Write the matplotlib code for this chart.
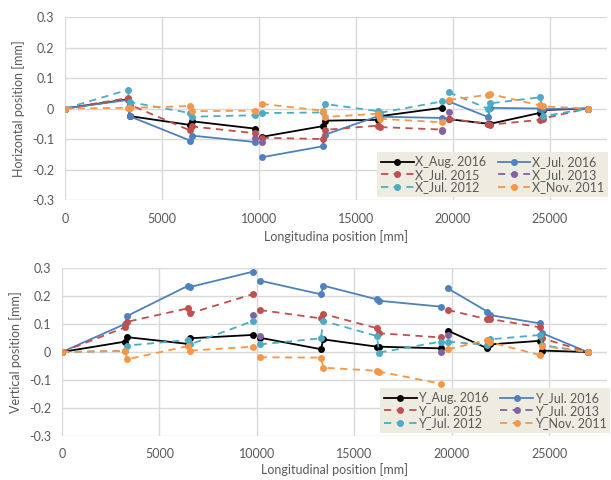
import numpy as np
import matplotlib
matplotlib.use("Agg")
import matplotlib.pyplot as plt
from matplotlib.ticker import FuncFormatter, MultipleLocator

plt.rcParams['font.family'] = ['Lato', 'DejaVu Sans']
plt.rcParams['axes.unicode_minus'] = False

# Longitudinal positions of the measuring points [mm]
positions = [0, 3230, 3350, 6450, 6560, 9800, 10140, 13280, 13400,
             16150, 16260, 19420, 19790, 21820, 21940, 24520, 24630, 26950]
# line breaks: segments of point indices
segments = [(0, 6), (6, 12), (12, 18)]

labels = ["Aug. 2016", "Jul. 2016", "Jul. 2015", "Jul. 2013", "Jul. 2012", "Nov. 2011"]
N = None

# Horizontal position [mm]
x_aug2016 = [0, 0.030, -0.025, -0.054, -0.042, -0.066, -0.093, -0.058, -0.040,
             -0.037, -0.025, 0.002, -0.035, -0.050, -0.050, -0.014, -0.005, 0]
x_jul2016 = [0, 0.028, -0.026, -0.105, -0.089, -0.110, -0.160, -0.124, -0.086,
             -0.025, -0.027, -0.031, 0.023, -0.028, 0.002, 0.000, -0.002, 0]
x_jul2015 = [0, 0.034, 0.012, -0.072, -0.059, -0.081, -0.096, -0.100, -0.070,
             -0.056, -0.061, -0.069, -0.034, -0.050, -0.053, -0.037, -0.033, 0]
x_jul2013 = [N, N, N, N, N, -0.096, -0.110, N, N,
             N, N, -0.075, -0.010, N, N, N, N, N]
x_jul2012 = [0, 0.061, 0.021, -0.015, -0.027, -0.022, -0.015, -0.013, 0.015,
             -0.009, -0.014, 0.023, 0.053, -0.001, 0.017, 0.037, -0.026, 0]
x_nov2011 = [0, 0.002, 0.002, 0.008, -0.009, -0.007, 0.015, -0.007, -0.028,
             -0.017, -0.034, -0.045, 0.028, 0.045, 0.047, 0.010, 0.007, 0]

# Vertical position [mm]
y_aug2016 = [0, 0.037, 0.053, 0.029, 0.049, 0.061, 0.051, 0.010, 0.045,
             0.019, 0.019, 0.013, 0.076, 0.013, 0.027, 0.040, 0.005, 0]
y_jul2016 = [0, 0.100, 0.129, 0.236, 0.232, 0.287, 0.255, 0.206, 0.237,
             0.188, 0.183, 0.162, 0.227, 0.144, 0.132, 0.102, 0.067, 0]
y_jul2015 = [0, 0.088, 0.108, 0.156, 0.138, 0.207, 0.150, 0.120, 0.136,
             0.085, 0.067, 0.052, 0.150, 0.117, 0.118, 0.088, 0.049, 0]
y_jul2013 = [N, N, N, N, N, 0.132, 0.057, N, N,
             N, N, -0.001, 0.061, N, N, N, N, N]
y_jul2012 = [0, 0.004, 0.023, 0.043, 0.027, 0.111, 0.027, 0.049, 0.111,
             0.057, -0.002, 0.037, 0.037, 0.025, 0.045, 0.061, 0.025, 0]
y_nov2011 = [0, 0.004, -0.026, 0.021, 0.005, 0.019, -0.019, -0.020, -0.056,
             -0.067, -0.070, -0.113, 0.010, 0.043, 0.035, -0.011, 0.021, 0]

colors = ["#000000", "#4F81BD", "#C0504D", "#8064A2", "#4BACC6", "#F79646"]
dashed = [False, False, True, True, True, True]

x_ticks = [0, 5000, 10000, 15000, 20000, 25000]
TXT = "#595959"

fig = plt.figure(figsize=(6.11, 4.8), dpi=100)
ax1 = fig.add_axes([65/611, 1-200/480, 542/611, 183/480])
ax2 = fig.add_axes([62/611, 1-436/480, 545/611, 168/480])


def draw(ax, series, prefix, ylabel, xlabel, leg_anchor, xlpad):
    handles = []
    for i, vals in enumerate(series):
        ls = (0, (4, 3)) if dashed[i] else '-'
        for a, b in segments:
            xs = positions[a:b]
            ys = [np.nan if v is None else v for v in vals[a:b]]
            ax.plot(xs, ys, color=colors[i], linestyle=ls, lw=1.3,
                    marker='o', ms=5, mew=0, zorder=3 + i)
        h, = ax.plot([], [], color=colors[i], linestyle=ls, lw=1.3,
                     marker='o', ms=5, mew=0)
        handles.append(h)
    ax.set_xlim(0, 27950)
    ax.set_ylim(-0.3, 0.3)
    ax.set_xticks(x_ticks)
    ax.yaxis.set_major_locator(MultipleLocator(0.1))
    ax.yaxis.set_major_formatter(FuncFormatter(lambda v, p: "%g" % round(v, 3)))
    ax.grid(True, color="#D9D9D9", lw=1)
    ax.set_axisbelow(True)
    for s in ax.spines.values():
        s.set_visible(False)
    ax.tick_params(axis='y', length=0, labelsize=9, labelcolor=TXT, pad=8)
    ax.tick_params(axis='x', length=0, labelsize=9, labelcolor=TXT, pad=9)
    ax.set_ylabel(ylabel, fontsize=9, color=TXT, labelpad=5)
    ax.set_xlabel(xlabel, fontsize=9, color=TXT, labelpad=xlpad)
    order = [0, 2, 4, 1, 3, 5]
    leg = ax.legend([handles[k] for k in order],
                    [prefix + labels[k] for k in order],
                    ncol=2, loc='lower right', bbox_to_anchor=leg_anchor,
                    fontsize=9, frameon=True, fancybox=False,
                    handlelength=2.6, handletextpad=0.15, columnspacing=0.9,
                    labelspacing=0.05, borderpad=0.3, borderaxespad=0)
    leg.get_frame().set_facecolor("#EEECE1")
    leg.get_frame().set_edgecolor("none")
    leg.get_frame().set_alpha(1)
    for t in leg.get_texts():
        t.set_color(TXT)
    leg.set_zorder(20)


draw(ax1, [x_aug2016, x_jul2016, x_jul2015, x_jul2013, x_jul2012, x_nov2011],
     "X_", "Horizontal position [mm]", "Longitudina position [mm]", (1.002, 0.016), 4)
draw(ax2, [y_aug2016, y_jul2016, y_jul2015, y_jul2013, y_jul2012, y_nov2011],
     "Y_", "Vertical position [mm]", "Longitudinal position [mm]", (1.006, 0.018), 2)

fig.savefig("out.png", dpi=100)
